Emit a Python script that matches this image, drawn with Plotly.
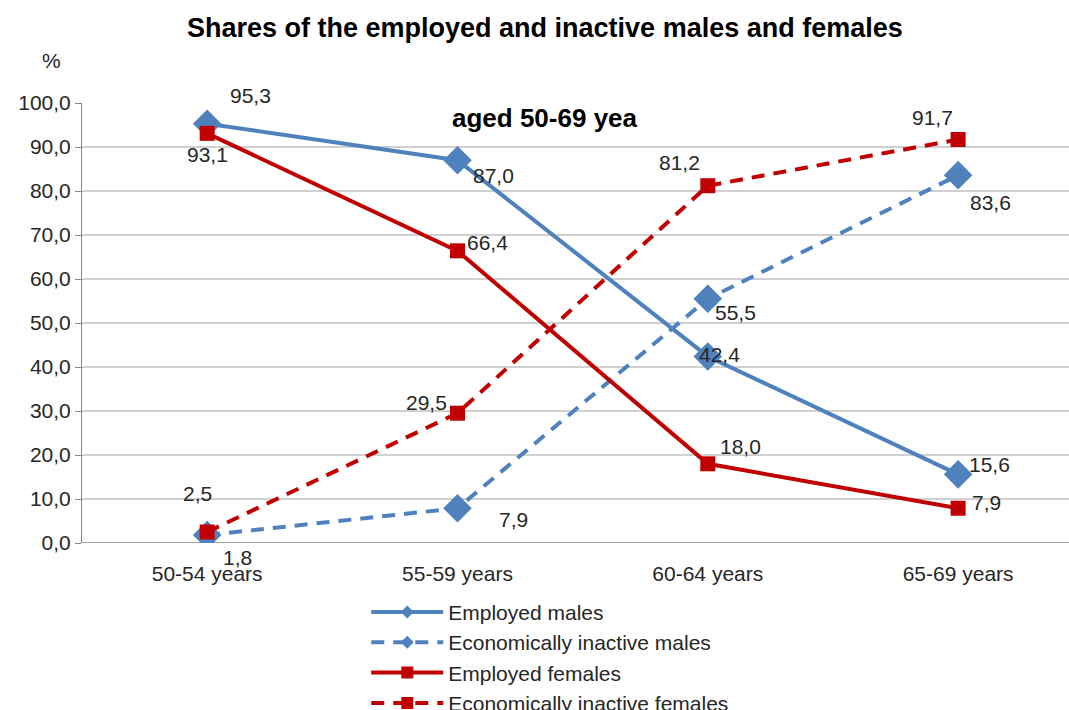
import plotly.graph_objects as go

# Age groups and shares (%) of the population
age_groups = ["50-54 years", "55-59 years", "60-64 years", "65-69 years"]
employed_males = [95.3, 87.0, 42.4, 15.6]
inactive_males = [1.8, 7.9, 55.5, 83.6]
employed_females = [93.1, 66.4, 18.0, 7.9]
inactive_females = [2.5, 29.5, 81.2, 91.7]
y_ticks = [0, 10, 20, 30, 40, 50, 60, 70, 80, 90, 100]

BLUE = "#4F81BD"
RED = "#C00000"
TEXT = "#262626"
FONT = "Liberation Sans, Arial, sans-serif"
FS = 21

x_pos = list(range(len(age_groups)))

# name, values, colour, dash, symbol, marker size, legend marker size, label shifts
series = [
    ("Employed males", employed_males, BLUE, "solid", "diamond", 22, 10,
     [(43, 28), (36, -15), (12, 2), (31, 10)]),
    ("Economically inactive males", inactive_males, BLUE, "13px,9px", "diamond", 22, 10,
     [(30, -22), (56, -11), (28, -14), (32, -27)]),
    ("Employed females", employed_females, RED, "solid", "square", 15, 12,
     [(0, -21), (30, 8), (33, 17), (28, 6)]),
    ("Economically inactive females", inactive_females, RED, "13px,9px", "square", 15, 12,
     [(-10, 39), (-31, 11), (-28, 23), (-26, 22)]),
]

fig = go.Figure()
annotations = []
for name, vals, color, dash, sym, msize, lsize, shifts in series:
    fig.add_trace(go.Scatter(
        x=x_pos, y=vals, name=name, mode="lines+markers",
        line=dict(color=color, width=4, dash=dash),
        marker=dict(symbol=sym, size=msize, color=color),
        showlegend=False,
    ))
    # legend entry with a smaller marker
    fig.add_trace(go.Scatter(
        x=[None], y=[None], name=name, mode="lines+markers",
        line=dict(color=color, width=4, dash=dash),
        marker=dict(symbol=sym, size=lsize, color=color),
        legendgroup=name, showlegend=True,
    ))
    for xi, v, (dx, dy) in zip(x_pos, vals, shifts):
        annotations.append(dict(
            x=xi, y=v, xref="x", yref="y",
            text=f"{v:.1f}".replace(".", ","), showarrow=False,
            xshift=dx, yshift=dy,
            font=dict(family=FONT, size=FS, color=TEXT),
        ))

annotations += [
    dict(text="<b>Shares of the employed and inactive males and females</b>",
         xref="paper", yref="paper", x=0.469, y=1.0, yanchor="middle", yshift=75,
         showarrow=False, font=dict(family=FONT, size=27, color="#000000")),
    dict(text="<b>aged 50-69 yea</b>", x=1.35, y=96.6, xref="x", yref="y",
         showarrow=False, font=dict(family=FONT, size=26, color="#000000")),
    dict(text="%", xref="paper", yref="paper", x=-0.043, y=1.0, yanchor="middle",
         yshift=43, showarrow=False, font=dict(family=FONT, size=FS, color=TEXT)),
]

fig.update_layout(
    width=1069, height=710,
    margin=dict(l=82, r=0, t=103, b=167, autoexpand=False),
    paper_bgcolor="white", plot_bgcolor="white",
    font=dict(family=FONT, size=FS, color=TEXT),
    showlegend=True,
    legend=dict(
        orientation="v", x=0.288, xanchor="left", y=-0.111, yanchor="top",
        font=dict(family=FONT, size=FS, color=TEXT),
        tracegroupgap=0, itemwidth=72, bgcolor="rgba(0,0,0,0)",
    ),
    annotations=annotations,
)
fig.update_xaxes(
    range=[-0.5, 3.443], tickvals=x_pos, ticktext=age_groups,
    showgrid=False, zeroline=False, showline=False, ticks="",
    ticklabelstandoff=16,
    tickfont=dict(family=FONT, size=FS, color=TEXT),
)
fig.update_yaxes(
    range=[0, 100], tickvals=y_ticks,
    ticktext=[f"{t:.1f}".replace(".", ",") for t in y_ticks],
    showgrid=True, gridcolor="#D0D0D0", gridwidth=1.5,
    zeroline=False, showline=True, linecolor="#868686", linewidth=1,
    ticks="outside", ticklen=6, tickcolor="#868686",
    tickfont=dict(family=FONT, size=FS, color=TEXT),
)
# Bottom axis line drawn along y = 0
fig.add_shape(type="line", xref="paper", yref="y", x0=0, x1=1, y0=0, y1=0,
              line=dict(color="#868686", width=1.5), layer="below")

fig.write_html("out.html")
